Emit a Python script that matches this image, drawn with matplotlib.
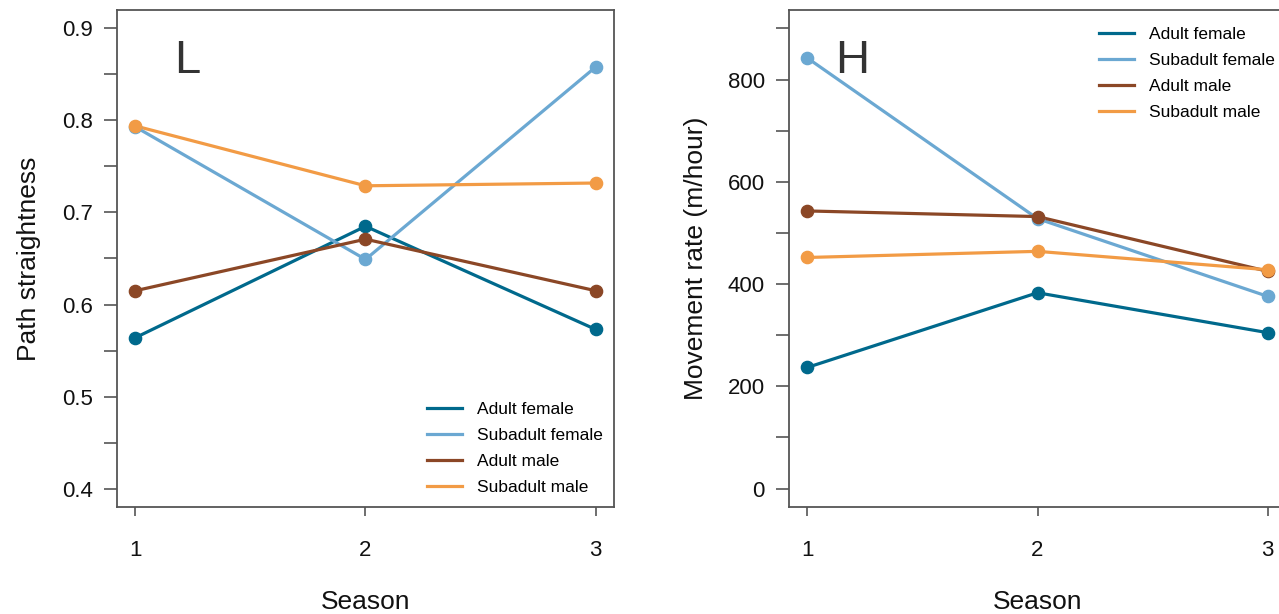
import numpy as np
import matplotlib
matplotlib.use('Agg')
import matplotlib.pyplot as plt
from matplotlib.ticker import MultipleLocator

plt.rcParams['font.family'] = ['Liberation Sans', 'DejaVu Sans']

seasons = [1, 2, 3]
groups = ['Adult female', 'Subadult female', 'Adult male', 'Subadult male']
colors = ['#00698C', '#6BA8D2', '#8B4726', '#F29B45']

# path straightness (left panel)
straight_af = [0.564, 0.685, 0.573]
straight_sf = [0.793, 0.649, 0.858]
straight_am = [0.615, 0.671, 0.615]
straight_sm = [0.794, 0.729, 0.732]

# movement rate m/hour (right panel)
rate_af = [237, 383, 305]
rate_sf = [842, 528, 376]
rate_am = [543, 532, 425]
rate_sm = [452, 464, 428]

fig = plt.figure(figsize=(12.79, 6.14), dpi=100)
ax1 = fig.add_axes([117/1279, 107/614, 497/1279, 497/614])
ax2 = fig.add_axes([789/1279, 107/614, 497/1279, 497/614])


def style(ax, ylim, major, minor):
    ax.set_xlim(0.92, 3.08)
    lo, hi = ylim
    ext = (hi - lo) * 0.04
    ax.set_ylim(lo - ext, hi + ext)
    ax.set_xticks(seasons)
    ax.yaxis.set_major_locator(MultipleLocator(major))
    ax.yaxis.set_minor_locator(MultipleLocator(minor))
    for s in ax.spines.values():
        s.set_color('#555555')
        s.set_linewidth(1.3)
    ax.tick_params(axis='y', which='both', length=9.5, width=1.2, color='#555555',
                   labelsize=16, pad=8, labelcolor='#111111')
    ax.tick_params(axis='y', which='minor', labelleft=False)
    ax.tick_params(axis='x', length=6.5, width=1.2, color='#555555',
                   labelsize=16, pad=17, labelcolor='#111111')
    ax.set_xlabel('Season', fontsize=19, color='#111111')
    ax.xaxis.set_label_coords(0.5, -0.168)


for ax, data in [(ax1, [straight_af, straight_sf, straight_am, straight_sm]),
                 (ax2, [rate_af, rate_sf, rate_am, rate_sm])]:
    for vals, c, g in zip(data, colors, groups):
        ax.plot(seasons, vals, '-', color=c, lw=2.3, label=g, zorder=3)
        ax.plot(seasons, vals, 'o', color=c, ms=8.8, zorder=4)

style(ax1, (0.4, 0.9), 0.1, 0.05)
style(ax2, (0, 900), 200, 100)

ax1.set_ylabel('Path straightness', fontsize=19, color='#111111')
ax1.yaxis.set_label_coords(-0.153, 0.5)
ax2.set_ylabel('Movement rate (m/hour)', fontsize=19, color='#111111')
ax2.yaxis.set_label_coords(-0.163, 0.5)

ax1.text(0.141, 0.897, 'L', transform=ax1.transAxes, fontsize=34,
         color='#333333', ha='center', va='center')
ax2.text(0.127, 0.897, 'H', transform=ax2.transAxes, fontsize=34,
         color='#333333', ha='center', va='center')

leg_kw = dict(frameon=False, fontsize=12.5, handlelength=2.0, handletextpad=0.85,
              labelspacing=0.62, borderaxespad=0.3)
ax1.legend(loc='lower left', bbox_to_anchor=(0.6, 0.0), **leg_kw)
ax2.legend(loc='upper left', bbox_to_anchor=(0.6, 0.99), **leg_kw)

fig.savefig('out.png', dpi=100)
